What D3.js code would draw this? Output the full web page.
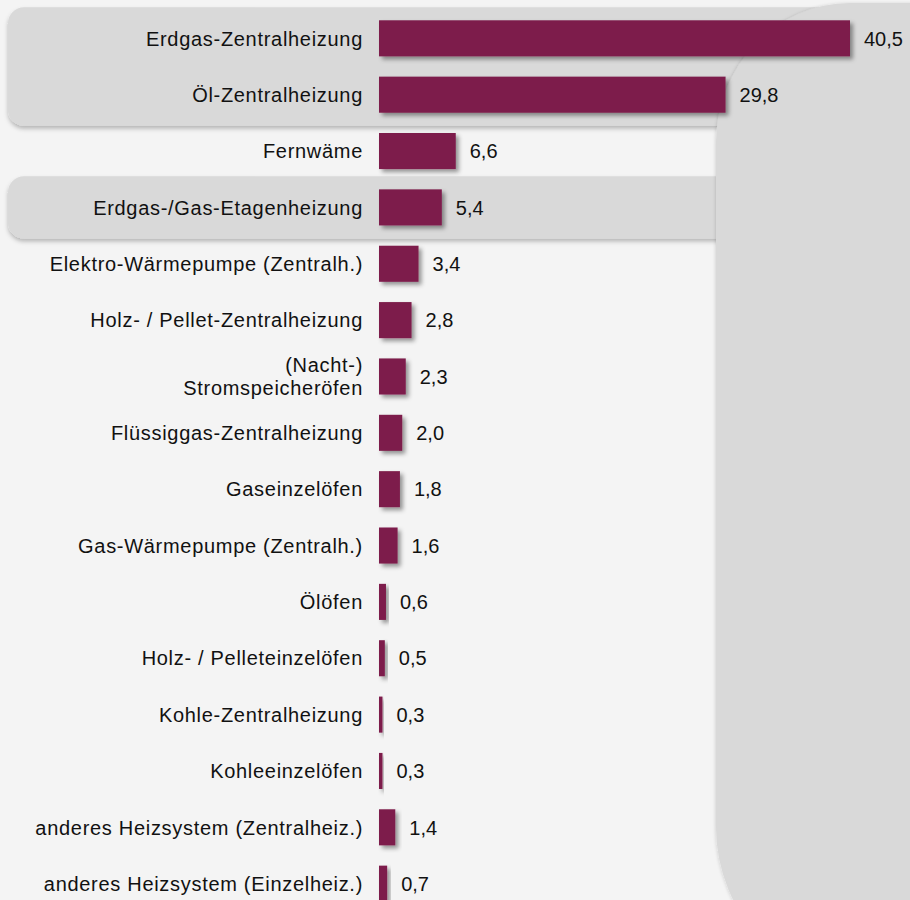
<!DOCTYPE html>
<html>
<head>
<meta charset="utf-8">
<script src="https://cdn.jsdelivr.net/npm/d3@7"></script>
<style>
  html, body { margin: 0; padding: 0; background: #f4f4f4; }
  svg { display: block; font-family: "Liberation Sans", Arial, sans-serif; }
</style>
</head>
<body>
<script>
// data
const categories = [
    "Erdgas-Zentralheizung",
    "Öl-Zentralheizung",
    "Fernwäme",
    "Erdgas-/Gas-Etagenheizung",
    "Elektro-Wärmepumpe (Zentralh.)",
    "Holz- / Pellet-Zentralheizung",
    "(Nacht-)|Stromspeicheröfen",
    "Flüssiggas-Zentralheizung",
    "Gaseinzelöfen",
    "Gas-Wärmepumpe (Zentralh.)",
    "Ölöfen",
    "Holz- / Pelleteinzelöfen",
    "Kohle-Zentralheizung",
    "Kohleeinzelöfen",
    "anderes Heizsystem (Zentralheiz.)",
    "anderes Heizsystem (Einzelheiz.)"
]
const values = [40.5, 29.8, 6.6, 5.4, 3.4, 2.8, 2.3, 2.0, 1.8, 1.6, 0.6, 0.5, 0.3, 0.3, 1.4, 0.7]
// grey bands behind these rows (first, last index)
const highlightRows = [[0, 1], [3, 3]]

const data = categories.map((c, i) => ({ name: c, value: values[i] }))

let width = 910
let height = 900
let barLeft = 379

const de = d3.formatLocale({ decimal: ",", thousands: ".", grouping: [3], currency: ["", " €"] })
const fmt = de.format(".1f")

// scales
const x = d3.scaleLinear()
    .domain([0, 40.5])
    .range([barLeft, 850])

const y = d3.scaleBand()
    .domain(categories)
    .range([0, 922])
    .padding(0.36)

const svg = d3.select("body").append("svg")
    .attr("width", width)
    .attr("height", height)
    .attr("viewBox", [0, 0, width, height])

const defs = svg.append("defs")
defs.append("filter")
    .attr("id", "barShadow")
    .attr("x", "-20%").attr("y", "-20%").attr("width", "160%").attr("height", "160%")
    .append("feDropShadow")
    .attr("dx", 3).attr("dy", 3).attr("stdDeviation", 2)
    .attr("flood-color", "#000").attr("flood-opacity", 0.4)
defs.append("filter")
    .attr("id", "panelShadow")
    .attr("x", "-5%").attr("y", "-20%").attr("width", "110%").attr("height", "150%")
    .append("feDropShadow")
    .attr("dx", 0).attr("dy", 3).attr("stdDeviation", 2)
    .attr("flood-color", "#000").attr("flood-opacity", 0.25)
defs.append("filter")
    .attr("id", "sideShadow")
    .attr("x", "-5%").attr("y", "-5%").attr("width", "110%").attr("height", "110%")
    .append("feDropShadow")
    .attr("dx", -1).attr("dy", 0).attr("stdDeviation", 1.5)
    .attr("flood-color", "#000").attr("flood-opacity", 0.12)

// background panels
svg.append("g")
    .selectAll("rect")
    .data(highlightRows)
    .join("rect")
    .attr("x", 8)
    .attr("y", d => y(categories[d[0]]) - 13)
    .attr("width", 860)
    .attr("height", d => y(categories[d[1]]) + y.bandwidth() + 13 - (y(categories[d[0]]) - 13))
    .attr("rx", 16)
    .attr("fill", "#d9d9d9")
    .attr("filter", "url(#panelShadow)")

// big panel on the right
svg.append("path")
    .attr("d", "M716,143 A134,140 0 0 1 850,3 L930,3 L930,990 L879,990 A163,163 0 0 1 716,827 Z")
    .attr("fill", "#d9d9d9")
    .attr("filter", "url(#sideShadow)")

// bars
svg.append("g")
    .attr("fill", "#7d1d4b")
    .selectAll("rect")
    .data(data)
    .join("rect")
    .attr("x", x(0))
    .attr("y", d => y(d.name))
    .attr("width", d => x(d.value) - x(0))
    .attr("height", y.bandwidth())
    .attr("filter", "url(#barShadow)")

// value labels
svg.append("g")
    .attr("font-size", 20)
    .attr("fill", "#111")
    .selectAll("text")
    .data(data)
    .join("text")
    .attr("x", d => x(d.value) + 14)
    .attr("y", d => y(d.name) + y.bandwidth() / 2)
    .attr("dy", "0.36em")
    .text(d => fmt(d.value))

// category labels
const labels = svg.append("g")
    .attr("font-size", 20)
    .attr("fill", "#111")
    .attr("text-anchor", "end")
    .style("letter-spacing", "0.7px")
    .selectAll("text")
    .data(data)
    .join("text")
    .attr("x", 363)
    .attr("y", d => y(d.name) + y.bandwidth() / 2)

labels.each(function (d) {
    const lines = d.name.split("|")
    const t = d3.select(this)
    lines.forEach((line, i) => {
        t.append("tspan")
            .attr("x", 363)
            .attr("dy", i === 0 ? (0.36 - (lines.length - 1) * 0.575) + "em" : "1.15em")
            .text(line)
    })
})
</script>
</body>
</html>
